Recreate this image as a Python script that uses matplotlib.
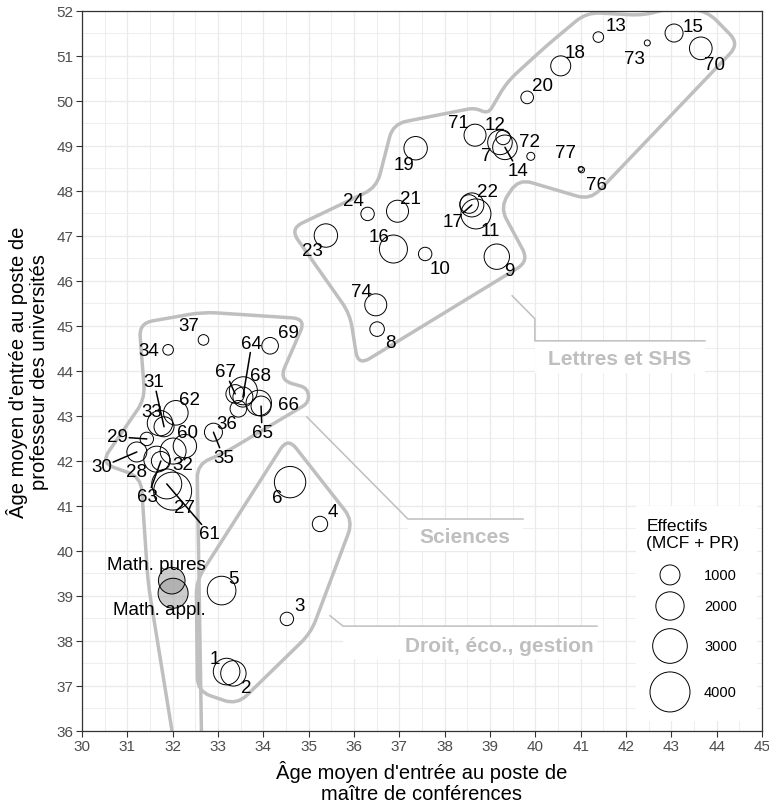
import numpy as np
import matplotlib
matplotlib.use("Agg")
import matplotlib.pyplot as plt
from matplotlib.path import Path
from matplotlib.patches import PathPatch, Rectangle

plt.rcParams['font.family'] = ['Liberation Sans', 'DejaVu Sans']

# --- données : sections CNU ---
section = ["7", "8", "9", "10", "11", "12", "13", "14", "15", "16", "17", "18",
           "19", "20", "21", "22", "23", "24", "70", "71", "72", "73", "74", "76", "77",
           "27", "28", "29", "30", "31", "32", "33", "34", "35", "36", "37",
           "60", "61", "62", "63", "64", "65", "66", "67", "68", "69",
           "Math. pures", "Math. appl.",
           "1", "2", "3", "4", "5", "6"]
age_mcf = [39.22, 36.51, 39.15, 37.57, 38.69, 39.29, 41.39, 39.33, 43.06, 36.87, 38.60, 40.56,
           37.36, 39.82, 36.96, 38.54, 35.38, 36.30, 43.65, 38.67, 39.90, 42.47, 36.48, 41.02, 41.00,
           32.00, 31.65, 31.43, 31.21, 31.81, 32.01, 31.72, 31.90, 32.90, 33.45, 32.68,
           32.27, 31.87, 32.07, 31.74, 33.55, 33.95, 33.90, 33.38, 33.56, 34.15,
           31.98, 32.01,
           33.19, 33.34, 34.52, 35.25, 33.08, 34.59]
age_pr = [49.08, 44.93, 46.54, 46.60, 47.49, 49.19, 51.42, 48.97, 51.51, 46.71, 47.69, 50.78,
          48.95, 50.08, 47.55, 47.71, 47.01, 47.49, 51.17, 49.24, 48.77, 51.29, 45.47, 48.47, 48.49,
          41.33, 42.04, 42.49, 42.20, 42.76, 42.22, 42.84, 44.47, 42.64, 43.16, 44.69,
          42.33, 41.49, 43.07, 42.00, 43.42, 43.22, 43.29, 43.49, 43.56, 44.56,
          39.34, 39.06,
          37.32, 37.28, 38.49, 40.60, 39.12, 41.53]
effectifs = [1510, 530, 1610, 450, 2250, 530, 280, 1510, 810, 1960, 1440, 1000,
             1370, 400, 1210, 860, 1370, 450, 1280, 1210, 160, 90, 1210, 90, 60,
             3600, 1690, 450, 1000, 1000, 1690, 1610, 280, 810, 690, 280,
             1370, 2250, 1510, 900, 1000, 1000, 1610, 865, 1960, 690,
             1770, 2250,
             1770, 1610, 450, 590, 2050, 2460]
maths = ["Math. pures", "Math. appl."]
legende_effectifs = [1000, 2000, 3000, 4000]

# position des étiquettes (décalage en pixels, segment ou non)
etiquettes = {
    "13": (18, 12, 0), "15": (19, 7, 0), "73": (-13, -16, 0), "70": (14, -16, 0),
    "18": (14, 13, 0), "20": (15, 12, 0), "71": (-17, 13, 0), "12": (-8, 13, 0),
    "7": (-14, -13, 0), "72": (-1, 15, 0), "14": (13, -23, 1), "77": (-15, 16, 0),
    "76": (15, -15, 0), "19": (-12, -16, 0), "22": (18, 13, 0), "17": (-19, -17, 1),
    "11": (14, -17, 0), "24": (-14, 13, 0), "21": (13, 13, 0), "23": (-13, -15, 0),
    "16": (-14, 13, 0), "10": (15, -15, 0), "9": (13, -14, 0), "74": (-14, 13, 0),
    "8": (13, -13, 0),
    "34": (-19, -1, 0), "37": (-15, 14, 0), "69": (18, 13, 0), "64": (9, 54, 1),
    "67": (-10, 22, 1), "68": (17, 15, 0), "66": (30, -2, 0), "65": (1, -26, 1),
    "36": (-12, -15, 0), "35": (10, -25, 1), "62": (14, 13, 0), "31": (-10, 45, 1),
    "33": (-8, 12, 0), "29": (-29, 2, 1), "30": (-35, -15, 1), "28": (-20, -12, 0),
    "60": (3, 14, 0), "32": (10, -13, 0), "63": (-13, -36, 1), "27": (12, -16, 0),
    "61": (43, -50, 1), "Math. pures": (-15, 16, 0), "Math. appl.": (-14, -16, 0),
    "6": (-13, -15, 0), "4": (13, 12, 0), "5": (12, 12, 0), "3": (13, 13, 0),
    "1": (-12, 13, 0), "2": (13, -14, 0),
}

# contours des groupes disciplinaires
contour_lettres = [(34.59, 47.16), (36.50, 48.08), (36.86, 49.49), (38.67, 49.85),
                   (38.96, 49.71), (39.37, 50.42), (40.25, 51.23), (41.13, 51.97),
                   (42.38, 51.90), (43.04, 52.08), (43.79, 52.0), (44.50, 51.27),
                   (41.21, 47.80), (39.63, 48.27), (39.22, 47.64), (39.86, 46.44),
                   (36.09, 44.12), (35.91, 45.27)]
contour_sciences = [(31.26, 45.06), (32.67, 45.31), (34.94, 45.16), (34.35, 43.80),
                    (34.98, 43.62), (35.01, 43.30), (33.11, 42.16), (32.54, 41.93),
                    (32.67, 33.8), (32.34, 33.8), (31.46, 39.27), (31.30, 41.64),
                    (30.42, 41.96), (31.39, 43.38)]
contour_droit = [(34.54, 42.52), (35.98, 40.67), (35.05, 38.18), (33.42, 36.58),
                 (32.55, 36.88), (32.52, 39.33)]

rappels = [
    ("Lettres et SHS", [(39.49, 45.67), (39.99, 45.16), (39.99, 44.67), (43.74, 44.67)], (41.87, 44.28)),
    ("Sciences", [(34.96, 42.98), (37.19, 40.71), (39.73, 40.71)], (38.45, 40.33)),
    ("Droit, éco., gestion", [(35.47, 38.56), (35.76, 38.33), (41.36, 38.33)], (39.20, 37.89)),
]


def taille(n):
    # aire proportionnelle à l'effectif (r = 10 px pour 1000)
    return 0.2074 * np.asarray(n, dtype=float)


def chemin_arrondi(verts, r=0.3):
    verts = np.asarray(verts, dtype=float)
    n = len(verts)
    pts, codes = [], []
    for i in range(n):
        p0, p1, p2 = verts[i - 1], verts[i], verts[(i + 1) % n]
        d1, d2 = p0 - p1, p2 - p1
        l1, l2 = np.hypot(*d1), np.hypot(*d2)
        rr = min(r, l1 / 2, l2 / 2)
        a = p1 + d1 / l1 * rr
        b = p1 + d2 / l2 * rr
        pts.append(a)
        codes.append(Path.MOVETO if i == 0 else Path.LINETO)
        pts += [p1, b]
        codes += [Path.CURVE3, Path.CURVE3]
    pts.append(pts[0])
    codes.append(Path.CLOSEPOLY)
    return Path(pts, codes)


fig = plt.figure(figsize=(7.69, 8.04), dpi=100)
ax = fig.add_axes([0.1066, 0.0896, 0.8843, 0.8955])
ax.set_xlim(30, 45)
ax.set_ylim(36, 52)

ax.set_xticks(np.arange(30, 46, 1))
ax.set_yticks(np.arange(36, 53, 1))
ax.set_xticks(np.arange(30, 45.01, 0.5), minor=True)
ax.set_yticks(np.arange(36, 52.01, 0.5), minor=True)
ax.grid(which='major', color='#ebebeb', lw=1.0, zorder=0)
ax.grid(which='minor', color='#ebebeb', lw=0.6, zorder=0)
ax.set_axisbelow(True)
ax.tick_params(which='minor', length=0)
ax.tick_params(which='major', length=4, width=0.8, color='#333333',
               labelsize=11, labelcolor='#4d4d4d', pad=2)
for sp in ax.spines.values():
    sp.set_color('#333333')
    sp.set_linewidth(0.9)

gris = '#bfbfbf'
for contour in [contour_lettres, contour_sciences, contour_droit]:
    ax.add_patch(PathPatch(chemin_arrondi(contour), fill=False, ec=gris, lw=2.5,
                           joinstyle='round', zorder=2))

for texte, ligne, centre in rappels:
    lx, ly = zip(*ligne)
    x0, x1 = lx[-2], lx[-1]
    ax.add_patch(Rectangle((x0, ly[-1] - 0.72), x1 - x0, 0.72, fc='white', ec='none', zorder=1))
    ax.plot(lx, ly, color=gris, lw=1.1, zorder=2)
    ax.text(centre[0], centre[1], texte, ha='center', va='center', fontsize=15,
            fontweight='bold', color=gris, zorder=3)

x = np.array(age_mcf)
y = np.array(age_pr)
est_math = np.array([s in maths for s in section])
ax.scatter(x[~est_math], y[~est_math], s=taille(effectifs)[~est_math],
           facecolors='none', edgecolors='black', linewidths=0.7, zorder=4)
ax.scatter(x[est_math], y[est_math], s=taille(effectifs)[est_math],
           facecolors='#9a9a9a', alpha=0.5, edgecolors='none', zorder=4)
ax.scatter(x[est_math], y[est_math], s=taille(effectifs)[est_math],
           facecolors='none', edgecolors='black', linewidths=0.7, zorder=4)

for s, xi, yi in zip(section, x, y):
    dx, dy, seg = etiquettes[s]
    props = dict(arrowstyle='-', color='black', lw=1.1, shrinkA=0, shrinkB=0) if seg else None
    ax.annotate(s, xy=(xi, yi), xytext=(dx, dy), textcoords='offset pixels',
                ha='center', va='center', fontsize=13.5, color='black', zorder=5,
                bbox=dict(boxstyle='square,pad=0.05', fc='none', ec='none'),
                arrowprops=props)

# légende des effectifs
ax.add_patch(Rectangle((0.815, 0.014), 0.178, 0.298, transform=ax.transAxes,
                       fc='white', ec='none', zorder=6))
ax.text(0.830, 0.2736, "Effectifs\n(MCF + PR)", transform=ax.transAxes, ha='left',
        va='center', fontsize=12.5, linespacing=1.1, zorder=7)
leg_y = [0.2167, 0.1736, 0.118, 0.0542]
ax.scatter([0.8647] * 4, leg_y, s=taille(legende_effectifs), transform=ax.transAxes,
           facecolors='none', edgecolors='black', linewidths=0.7, zorder=7, clip_on=False)
for v, ly in zip(legende_effectifs, leg_y):
    ax.text(0.9147, ly, str(v), transform=ax.transAxes, ha='left', va='center',
            fontsize=10.5, zorder=7)

ax.set_xlabel("Âge moyen d'entrée au poste de\nmaître de conférences", fontsize=14.5,
              linespacing=1.15)
ax.set_ylabel("Âge moyen d'entrée au poste de\nprofesseur des universités", fontsize=14.5,
              linespacing=1.15)
ax.xaxis.set_label_coords(0.5, -0.040)
ax.yaxis.set_label_coords(-0.048, 0.5)

fig.savefig("out.png", dpi=100)
